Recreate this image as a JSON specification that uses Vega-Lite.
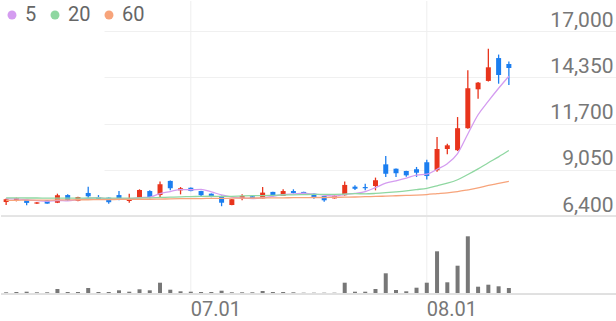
{
  "$schema": "https://vega.github.io/schema/vega-lite/v6.json",
  "width": 616,
  "height": 293,
  "padding": 0,
  "autosize": {"type": "pad"},
  "background": "white",
  "config": {"view": {"stroke": null}, "font": "Roboto", "axis": {"labelFont": "Roboto"}, "legend": {"labelFont": "Roboto"}},
  "data": {"values": [
    {"date":"2024-06-04","open":7200,"high":7400,"low":7030,"close":7360,"volume":170000,"ma5":7400,"ma20":7440,"ma60":7300},
    {"date":"2024-06-05","open":7300,"high":7450,"low":7240,"close":7410,"volume":200000,"ma5":7380,"ma20":7440,"ma60":7300},
    {"date":"2024-06-07","open":7330,"high":7370,"low":7010,"close":7150,"volume":230000,"ma5":7330,"ma20":7430,"ma60":7310},
    {"date":"2024-06-10","open":7110,"high":7200,"low":7090,"close":7180,"volume":170000,"ma5":7280,"ma20":7430,"ma60":7310},
    {"date":"2024-06-11","open":7300,"high":7310,"low":7100,"close":7110,"volume":170000,"ma5":7242,"ma20":7420,"ma60":7310},
    {"date":"2024-06-12","open":7160,"high":7680,"low":7140,"close":7590,"volume":500000,"ma5":7288,"ma20":7420,"ma60":7320},
    {"date":"2024-06-13","open":7600,"high":7650,"low":7260,"close":7300,"volume":200000,"ma5":7266,"ma20":7420,"ma60":7320},
    {"date":"2024-06-14","open":7260,"high":7500,"low":7240,"close":7490,"volume":200000,"ma5":7334,"ma20":7420,"ma60":7330},
    {"date":"2024-06-17","open":7720,"high":8080,"low":7360,"close":7530,"volume":600000,"ma5":7404,"ma20":7430,"ma60":7330},
    {"date":"2024-06-18","open":7490,"high":7600,"low":7340,"close":7360,"volume":200000,"ma5":7454,"ma20":7430,"ma60":7340},
    {"date":"2024-06-19","open":7450,"high":7460,"low":7100,"close":7190,"volume":200000,"ma5":7374,"ma20":7420,"ma60":7340},
    {"date":"2024-06-20","open":7600,"high":7830,"low":7300,"close":7410,"volume":370000,"ma5":7396,"ma20":7420,"ma60":7350},
    {"date":"2024-06-21","open":7260,"high":7680,"low":7160,"close":7410,"volume":230000,"ma5":7380,"ma20":7420,"ma60":7350},
    {"date":"2024-06-24","open":7450,"high":7930,"low":7430,"close":7890,"volume":470000,"ma5":7452,"ma20":7430,"ma60":7360},
    {"date":"2024-06-25","open":7830,"high":7880,"low":7410,"close":7490,"volume":370000,"ma5":7478,"ma20":7440,"ma60":7360},
    {"date":"2024-06-26","open":7600,"high":8370,"low":7490,"close":8220,"volume":1130000,"ma5":7684,"ma20":7460,"ma60":7370},
    {"date":"2024-06-27","open":8410,"high":8430,"low":7870,"close":7990,"volume":430000,"ma5":7800,"ma20":7480,"ma60":7380},
    {"date":"2024-06-28","open":7870,"high":8060,"low":7640,"close":7990,"volume":270000,"ma5":7916,"ma20":7500,"ma60":7390},
    {"date":"2024-07-01","open":8020,"high":8040,"low":7820,"close":7830,"volume":230000,"ma5":7904,"ma20":7510,"ma60":7400},
    {"date":"2024-07-02","open":7830,"high":7840,"low":7510,"close":7590,"volume":200000,"ma5":7924,"ma20":7525,"ma60":7400},
    {"date":"2024-07-03","open":7680,"high":7690,"low":7470,"close":7490,"volume":200000,"ma5":7778,"ma20":7531,"ma60":7410},
    {"date":"2024-07-04","open":7550,"high":7570,"low":6960,"close":7160,"volume":330000,"ma5":7612,"ma20":7519,"ma60":7410},
    {"date":"2024-07-05","open":7030,"high":7370,"low":7010,"close":7360,"volume":170000,"ma5":7486,"ma20":7529,"ma60":7420},
    {"date":"2024-07-08","open":7410,"high":7640,"low":7300,"close":7550,"volume":170000,"ma5":7430,"ma20":7548,"ma60":7420},
    {"date":"2024-07-09","open":7530,"high":7540,"low":7420,"close":7430,"volume":170000,"ma5":7398,"ma20":7564,"ma60":7430},
    {"date":"2024-07-10","open":7410,"high":8060,"low":7400,"close":7740,"volume":300000,"ma5":7448,"ma20":7571,"ma60":7430},
    {"date":"2024-07-11","open":7780,"high":7790,"low":7510,"close":7590,"volume":200000,"ma5":7534,"ma20":7586,"ma60":7440},
    {"date":"2024-07-12","open":7550,"high":7930,"low":7540,"close":7830,"volume":200000,"ma5":7628,"ma20":7603,"ma60":7440},
    {"date":"2024-07-15","open":7830,"high":7930,"low":7680,"close":7720,"volume":170000,"ma5":7662,"ma20":7612,"ma60":7450},
    {"date":"2024-07-16","open":7780,"high":7790,"low":7630,"close":7640,"volume":130000,"ma5":7704,"ma20":7626,"ma60":7450},
    {"date":"2024-07-17","open":7680,"high":7690,"low":7390,"close":7490,"volume":130000,"ma5":7654,"ma20":7641,"ma60":7460},
    {"date":"2024-07-18","open":7550,"high":7560,"low":7220,"close":7300,"volume":130000,"ma5":7596,"ma20":7636,"ma60":7460},
    {"date":"2024-07-19","open":7410,"high":7570,"low":7400,"close":7560,"volume":130000,"ma5":7542,"ma20":7643,"ma60":7470},
    {"date":"2024-07-22","open":7590,"high":8370,"low":7580,"close":8180,"volume":1130000,"ma5":7634,"ma20":7658,"ma60":7480},
    {"date":"2024-07-23","open":8080,"high":8160,"low":7890,"close":7960,"volume":230000,"ma5":7698,"ma20":7681,"ma60":7490},
    {"date":"2024-07-24","open":8060,"high":8250,"low":7870,"close":7990,"volume":230000,"ma5":7798,"ma20":7670,"ma60":7510},
    {"date":"2024-07-25","open":8120,"high":8600,"low":7870,"close":8450,"volume":500000,"ma5":8028,"ma20":7693,"ma60":7520},
    {"date":"2024-07-26","open":9360,"high":9840,"low":8640,"close":8820,"volume":2070000,"ma5":8280,"ma20":7734,"ma60":7540},
    {"date":"2024-07-29","open":9110,"high":9120,"low":8640,"close":8850,"volume":400000,"ma5":8414,"ma20":7785,"ma60":7560},
    {"date":"2024-07-30","open":8980,"high":8990,"low":8650,"close":8730,"volume":270000,"ma5":8568,"ma20":7842,"ma60":7580},
    {"date":"2024-07-31","open":9080,"high":9210,"low":8640,"close":8880,"volume":630000,"ma5":8746,"ma20":7912,"ma60":7600},
    {"date":"2024-08-01","open":9480,"high":9620,"low":8490,"close":8690,"volume":1130000,"ma5":8794,"ma20":7988,"ma60":7630},
    {"date":"2024-08-02","open":9020,"high":10930,"low":8940,"close":10240,"volume":4270000,"ma5":9078,"ma20":8132,"ma60":7680},
    {"date":"2024-08-05","open":10240,"high":10540,"low":9940,"close":10450,"volume":1170000,"ma5":9398,"ma20":8277,"ma60":7730},
    {"date":"2024-08-06","open":10170,"high":12070,"low":10120,"close":11430,"volume":2830000,"ma5":9980,"ma20":8477,"ma60":7800},
    {"date":"2024-08-07","open":11430,"high":14750,"low":11400,"close":13720,"volume":5770000,"ma5":11100,"ma20":8776,"ma60":7900},
    {"date":"2024-08-08","open":13660,"high":14080,"low":13120,"close":14040,"volume":730000,"ma5":12200,"ma20":9099,"ma60":8010},
    {"date":"2024-08-09","open":14140,"high":15980,"low":14100,"close":14920,"volume":930000,"ma5":12980,"ma20":9453,"ma60":8150},
    {"date":"2024-08-12","open":15450,"high":15650,"low":13980,"close":14480,"volume":770000,"ma5":13718,"ma20":9791,"ma60":8270},
    {"date":"2024-08-13","open":15110,"high":15250,"low":13910,"close":14880,"volume":600000,"ma5":14408,"ma20":10153,"ma60":8390}
  ]},
  "layer": [
    {
      "transform": [{"filter": "datum.date == '2024-07-01' || datum.date == '2024-08-01'"}],
      "mark": {"type": "rule", "color": "#eeeeee", "strokeWidth": 1},
      "encoding": {
        "x": {"field": "date", "type": "ordinal", "scale": {"type": "band", "range": [0, 513], "paddingInner": 0, "paddingOuter": 0},
              "axis": {"values": ["2024-07-01", "2024-08-01"], "labelExpr": "replace(slice(datum.value,5),'-','.')", "labelAlign": "left", "labelBaseline": "top", "labelPadding": 5, "labelAngle": 0, "domain": false, "ticks": false, "tickSize": 0, "grid": false, "labelFontSize": 20, "labelColor": "#777777", "title": null, "bandPosition": 0.5}}
      }
    },
    {
      "layer": [
        {
          "mark": {"type": "rule", "color": "#e4e4e4", "strokeWidth": 1},
          "encoding": {
            "y": {"datum": 6400, "type": "quantitative", "scale": {"domain": [6400, 17000], "range": [215, 30], "zero": false, "nice": false},
                  "axis": {"orient": "right", "values": [6400, 9050, 11700, 14350, 17000], "format": ",d", "grid": true, "gridColor": "#f0f0f0", "domain": false, "ticks": false, "tickSize": 0, "labelAlign": "right", "labelPadding": -4, "labelBaseline": "alphabetic", "labelOffset": -5, "labelFontSize": 21, "labelColor": "#777777", "title": null}}
          }
        },
        {
          "mark": {"type": "rule", "strokeWidth": 1.3},
          "encoding": {
            "x": {"field": "date", "type": "ordinal", "scale": {"type": "band", "range": [0, 513], "paddingInner": 0, "paddingOuter": 0},
                  "axis": {"values": ["2024-07-01", "2024-08-01"], "labelExpr": "replace(slice(datum.value,5),'-','.')", "labelAlign": "left", "labelBaseline": "top", "labelPadding": 5, "labelAngle": 0, "domain": false, "ticks": false, "tickSize": 0, "grid": false, "labelFontSize": 20, "labelColor": "#777777", "title": null, "bandPosition": 0.5}},
            "y": {"field": "low", "type": "quantitative", "scale": {"domain": [6400, 17000], "range": [215, 30], "zero": false, "nice": false},
                  "axis": {"orient": "right", "values": [6400, 9050, 11700, 14350, 17000], "format": ",d", "grid": true, "gridColor": "#f0f0f0", "domain": false, "ticks": false, "tickSize": 0, "labelAlign": "right", "labelPadding": -4, "labelBaseline": "alphabetic", "labelOffset": -5, "labelFontSize": 21, "labelColor": "#777777", "title": null}},
            "y2": {"field": "high"},
            "color": {"condition": {"test": "datum.close >= datum.open", "value": "#e8341c"}, "value": "#1b7ef0"}
          }
        },
        {
          "mark": {"type": "bar", "size": 5},
          "encoding": {
            "x": {"field": "date", "type": "ordinal", "scale": {"type": "band", "range": [0, 513], "paddingInner": 0, "paddingOuter": 0},
                  "axis": {"values": ["2024-07-01", "2024-08-01"], "labelExpr": "replace(slice(datum.value,5),'-','.')", "labelAlign": "left", "labelBaseline": "top", "labelPadding": 5, "labelAngle": 0, "domain": false, "ticks": false, "tickSize": 0, "grid": false, "labelFontSize": 20, "labelColor": "#777777", "title": null, "bandPosition": 0.5}},
            "y": {"field": "open", "type": "quantitative", "scale": {"domain": [6400, 17000], "range": [215, 30], "zero": false, "nice": false},
                  "axis": {"orient": "right", "values": [6400, 9050, 11700, 14350, 17000], "format": ",d", "grid": true, "gridColor": "#f0f0f0", "domain": false, "ticks": false, "tickSize": 0, "labelAlign": "right", "labelPadding": -4, "labelBaseline": "alphabetic", "labelOffset": -5, "labelFontSize": 21, "labelColor": "#777777", "title": null}},
            "y2": {"field": "close"},
            "color": {"condition": {"test": "datum.close >= datum.open", "value": "#e8341c"}, "value": "#1b7ef0"}
          }
        },
        {
          "transform": [{"fold": ["ma5", "ma20", "ma60"], "as": ["ma", "value"]}],
          "mark": {"type": "line", "strokeWidth": 1.3, "interpolate": "monotone"},
          "encoding": {
            "x": {"field": "date", "type": "ordinal", "scale": {"type": "band", "range": [0, 513], "paddingInner": 0, "paddingOuter": 0},
                  "axis": {"values": ["2024-07-01", "2024-08-01"], "labelExpr": "replace(slice(datum.value,5),'-','.')", "labelAlign": "left", "labelBaseline": "top", "labelPadding": 5, "labelAngle": 0, "domain": false, "ticks": false, "tickSize": 0, "grid": false, "labelFontSize": 20, "labelColor": "#777777", "title": null, "bandPosition": 0.5}},
            "y": {"field": "value", "type": "quantitative", "scale": {"domain": [6400, 17000], "range": [215, 30], "zero": false, "nice": false},
                  "axis": {"orient": "right", "values": [6400, 9050, 11700, 14350, 17000], "format": ",d", "grid": true, "gridColor": "#f0f0f0", "domain": false, "ticks": false, "tickSize": 0, "labelAlign": "right", "labelPadding": -4, "labelBaseline": "alphabetic", "labelOffset": -5, "labelFontSize": 21, "labelColor": "#777777", "title": null}},
            "color": {"field": "ma", "type": "nominal", "sort": ["ma5", "ma20", "ma60"],
                      "scale": {"domain": ["ma5", "ma20", "ma60"], "range": ["#d49cf0", "#8fd7a1", "#f7a47b"]},
                      "legend": {"orient": "none", "legendX": 1, "legendY": 4, "direction": "horizontal", "gridAlign": "none", "title": null, "padding": 0, "symbolType": "circle", "symbolSize": 80, "symbolStrokeWidth": 0, "labelFontSize": 20, "labelColor": "#666666", "labelExpr": "replace(datum.label,'ma','')", "columnPadding": 8, "labelOffset": 3,
                                 "encode": {"symbols": {"update": {"fill": {"scale": "color", "field": "value"}, "opacity": {"value": 1}}}}}}
          }
        }
      ]
    },
    {
      "layer": [
        {
          "mark": {"type": "bar", "size": 4, "color": "#777777"},
          "encoding": {
            "x": {"field": "date", "type": "ordinal", "scale": {"type": "band", "range": [0, 513], "paddingInner": 0, "paddingOuter": 0},
                  "axis": {"values": ["2024-07-01", "2024-08-01"], "labelExpr": "replace(slice(datum.value,5),'-','.')", "labelAlign": "left", "labelBaseline": "top", "labelPadding": 5, "labelAngle": 0, "domain": false, "ticks": false, "tickSize": 0, "grid": false, "labelFontSize": 20, "labelColor": "#777777", "title": null, "bandPosition": 0.5}},
            "y": {"field": "volume", "type": "quantitative", "scale": {"domain": [0, 7800000], "range": [293, 215], "nice": false}, "axis": null}
          }
        },
        {
          "mark": {"type": "rule", "color": "#e0e0e0", "strokeWidth": 1},
          "encoding": {
            "y": {"datum": 0, "type": "quantitative", "scale": {"domain": [0, 7800000], "range": [293, 215], "nice": false}, "axis": null}
          }
        }
      ]
    }
  ],
  "resolve": {"scale": {"y": "independent"}}
}
